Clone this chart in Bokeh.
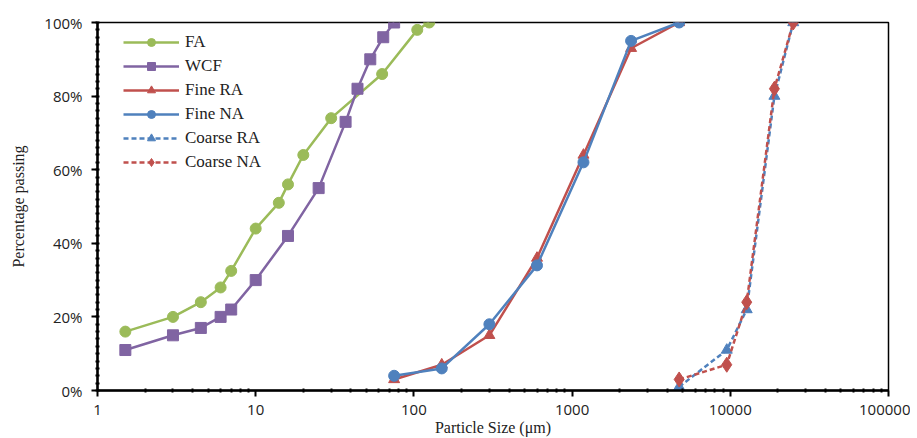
from bokeh.plotting import figure
from bokeh.models import (FixedTicker, PrintfTickFormatter, Legend, LegendItem, Range1d)
from bokeh.embed import file_html
from bokeh.resources import INLINE

# ---- data ----
fa_x = [1.5, 3, 4.5, 6, 7, 10, 14, 16, 20, 30, 63, 105, 125]
fa_y = [16, 20, 24, 28, 32.5, 44, 51, 56, 64, 74, 86, 98, 100]

wcf_x = [1.5, 3, 4.5, 6, 7, 10, 16, 25, 37, 44, 53, 64, 75]
wcf_y = [11, 15, 17, 20, 22, 30, 42, 55, 73, 82, 90, 96, 100]

fine_x = [75, 150, 300, 600, 1180, 2360, 4750]
fine_ra_y = [3, 7, 15, 36, 64, 93, 100]
fine_na_y = [4, 6, 18, 34, 62, 95, 100]

coarse_x = [4750, 9500, 12700, 19000, 25000]
coarse_ra_y = [1, 11, 22, 80, 100]
coarse_na_y = [3, 7, 24, 82, 100]

x_major = [1, 10, 100, 1000, 10000, 100000]
y_major = [0, 20, 40, 60, 80, 100]

GREEN = "#9BBB59"
PURPLE = "#8064A2"
RED = "#C0504D"
BLUE = "#4F81BD"

p = figure(width=910, height=438, x_axis_type="log",
           x_range=Range1d(1, 100000), y_range=Range1d(0, 100),
           output_backend="svg", toolbar_location=None,
           min_border_left=97, min_border_right=22, min_border_top=22, min_border_bottom=46)

p.grid.visible = False
p.outline_line_color = "black"
p.outline_line_width = 1.5
p.background_fill_color = "white"
p.border_fill_color = "white"

minor_x = []
for d in x_major[:-1]:
    minor_x += [d * k for k in range(2, 10)]
p.xaxis.ticker = FixedTicker(ticks=x_major, minor_ticks=minor_x)
p.xaxis.formatter = PrintfTickFormatter(format="%d")
p.yaxis.ticker = FixedTicker(ticks=y_major, minor_ticks=list(range(0, 101, 2)))
p.yaxis.formatter = PrintfTickFormatter(format="%d%%")

for ax in (p.xaxis[0], p.yaxis[0]):
    ax.axis_line_color = "black"
    ax.axis_line_width = 2.5
    ax.major_tick_line_color = "black"
    ax.major_tick_line_width = 2
    ax.major_tick_out = 6
    ax.major_tick_in = 0
    ax.minor_tick_line_color = "black"
    ax.minor_tick_line_width = 2
    ax.minor_tick_in = 2
    ax.minor_tick_out = 2
    ax.major_label_text_font = "Open Sans"
    ax.major_label_text_font_size = "15px"
    ax.major_label_text_color = "#222222"
    ax.axis_label_text_font = "Liberation Serif"
    ax.axis_label_text_font_style = "normal"
    ax.axis_label_text_color = "#222222"

p.yaxis.major_label_standoff = 9
p.xaxis.major_label_standoff = 8
p.xaxis.axis_label = "Particle Size (μm)"
p.xaxis.axis_label_text_font_size = "16px"
p.xaxis.axis_label_standoff = 1
p.yaxis.axis_label = "Percentage passing"
p.yaxis.axis_label_text_font_size = "16px"
p.yaxis.axis_label_standoff = 14

lw = 2.5
l1 = p.line(fa_x, fa_y, line_color=GREEN, line_width=lw)
s1 = p.scatter(fa_x, fa_y, marker="circle", size=11, fill_color=GREEN, line_color=GREEN)
l2 = p.line(wcf_x, wcf_y, line_color=PURPLE, line_width=lw)
s2 = p.scatter(wcf_x, wcf_y, marker="square", size=11, fill_color=PURPLE, line_color=PURPLE)
l3 = p.line(fine_x, fine_ra_y, line_color=RED, line_width=lw)
s3 = p.scatter(fine_x, fine_ra_y, marker="triangle", size=11, fill_color=RED, line_color=RED)
l4 = p.line(fine_x, fine_na_y, line_color=BLUE, line_width=lw)
s4 = p.scatter(fine_x, fine_na_y, marker="circle", size=11, fill_color=BLUE, line_color=BLUE)
l5 = p.line(coarse_x, coarse_ra_y, line_color=BLUE, line_width=lw, line_dash="5 3")
s5 = p.scatter(coarse_x, coarse_ra_y, marker="triangle", size=11, fill_color=BLUE, line_color=BLUE)
l6 = p.line(coarse_x, coarse_na_y, line_color=RED, line_width=lw, line_dash="5 3")
s6 = p.scatter(coarse_x, coarse_na_y, marker="diamond", size=15, fill_color=RED, line_color=RED)

items = [
    LegendItem(label="FA", renderers=[l1, s1]),
    LegendItem(label="WCF", renderers=[l2, s2]),
    LegendItem(label="Fine RA", renderers=[l3, s3]),
    LegendItem(label="Fine NA", renderers=[l4, s4]),
    LegendItem(label="Coarse RA", renderers=[l5, s5]),
    LegendItem(label="Coarse NA", renderers=[l6, s6]),
]
legend = Legend(items=items, location=(26, 218), margin=0, padding=0,
                glyph_width=56, glyph_height=20, label_height=20, spacing=4,
                label_standoff=6, border_line_color=None, background_fill_alpha=0,
                label_text_font="Liberation Serif", label_text_font_size="17px",
                label_text_color="#222222")
p.add_layout(legend)

open("out.html", "w").write(file_html(p, INLINE))
